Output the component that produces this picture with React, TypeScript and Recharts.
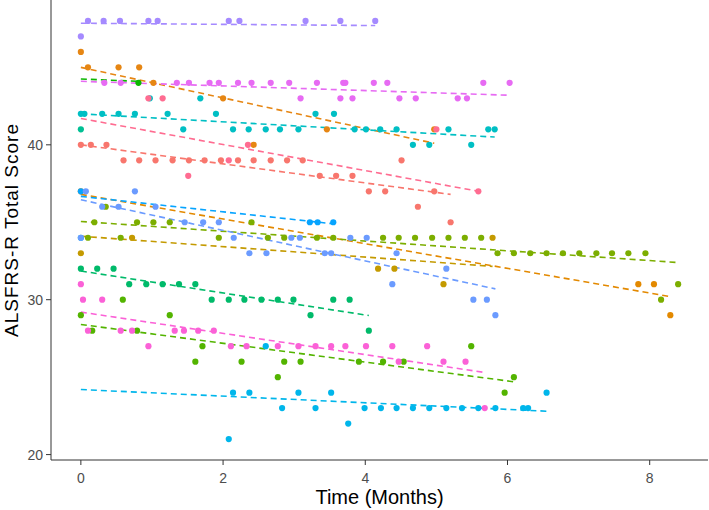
import { ComposedChart, Scatter, Line, XAxis, YAxis, Label } from 'recharts';

// patient visits: time in months, ALSFRS-R total score
// fitTime / fitScore = ends of the dashed linear trend per patient
const p01Time = [0, 0.1, 0.32, 0.55, 0.95, 1.08, 2.08, 2.23, 3.16, 3.65, 4.14];
const p01Score = [47, 48, 48, 48, 48, 48, 48, 48, 48, 48, 48];
const p01FitTime = [0, 4.14];
const p01FitScore = [47.85, 47.7];

const p02Time = [0, 0.1, 0.53, 0.82, 1.02, 2.0, 2.43, 3.46, 4.97];
const p02Score = [46, 45, 45, 45, 44, 43, 40, 41, 41];
const p02FitTime = [0, 4.97];
const p02FitScore = [45.0, 40.1];

const p03Time = [0.33, 0.56, 1.35, 1.52, 1.81, 1.94, 2.21, 2.4, 2.67, 2.93, 3.09, 3.32, 3.65, 3.69, 3.72, 3.82, 4.12, 4.31, 4.48, 4.71, 5.3, 5.43, 5.66, 6.03];
const p03Score = [44, 44, 44, 44, 44, 44, 44, 44, 44, 44, 43, 44, 43, 44, 44, 43, 44, 44, 43, 43, 43, 43, 44, 44];
const p03FitTime = [0, 6.03];
const p03FitScore = [44.1, 43.2];

const p04Time = [0.81];
const p04Score = [44];
const p04FitTime = [0, 0.81];
const p04FitScore = [44.25, 44.1];

const p05Time = [0, 0.05, 0.3, 0.53, 0.76, 0.97, 1.22, 1.44, 1.68, 1.9, 2.14, 2.36, 2.6, 2.8, 3.06, 3.3, 3.56, 3.85, 4.01, 4.21, 4.44, 4.67, 4.9, 5.17, 5.49, 5.73, 5.82];
const p05Score = [42, 42, 42, 42, 42, 43, 42, 41, 43, 42, 41, 41, 41, 41, 41, 42, 42, 41, 41, 41, 41, 40, 40, 41, 40, 41, 41];
const p05FitTime = [0, 5.82];
const p05FitScore = [42.0, 40.5];

const p06Time = [0];
const p06Score = [41];

const p07Time = [0, 0.14, 0.36, 0.6, 0.82, 1.05, 1.29, 1.52, 1.74, 1.97, 2.21, 2.43, 2.67, 2.9, 3.12, 3.36, 3.59, 3.82, 4.05, 4.28, 4.51, 4.74, 4.97, 5.2];
const p07Score = [40, 40, 40, 39, 39, 39, 39, 39, 39, 39, 39, 39, 39, 39, 39, 38, 38, 38, 37, 37, 39, 36, 37, 35];
const p07FitTime = [0, 5.2];
const p07FitScore = [40.0, 36.8];

const p08Time = [0.95, 1.15, 1.51, 2.08, 2.35, 5.0, 5.59];
const p08Score = [43, 43, 38, 39, 40, 41, 37];
const p08FitTime = [0, 5.59];
const p08FitScore = [41.7, 37.0];

const p09Time = [0, 0.07, 0.3, 0.53, 0.76, 1.05, 1.46, 1.72, 1.94, 2.15, 2.37, 2.61, 2.96, 3.08, 3.43, 3.52, 3.79, 4.02, 4.38, 4.44, 5.14, 5.52, 5.71, 5.83];
const p09Score = [34, 37, 36, 36, 37, 36, 35, 35, 35, 34, 33, 33, 34, 34, 33, 33, 34, 34, 31, 33, 32, 30, 30, 29];
const p09FitTime = [0, 5.83];
const p09FitScore = [36.45, 30.7];

const p10Time = [0, 3.22, 3.33, 3.55];
const p10Score = [37, 35, 35, 35];
const p10FitTime = [0, 3.55];
const p10FitScore = [36.67, 34.9];

const p11Time = [0.1, 0.19, 0.35, 0.56, 0.79, 1.02, 1.25, 1.94, 2.4, 2.63, 2.86, 3.32, 3.55, 4.25, 4.47, 4.7, 4.94, 5.17, 5.4, 5.63, 5.86, 6.09, 6.32, 6.55, 6.78, 7.01, 7.25, 7.47, 7.7, 7.94, 8.16, 8.4];
const p11Score = [34, 35, 36, 34, 35, 35, 35, 34, 35, 34, 34, 34, 34, 34, 34, 34, 34, 34, 34, 34, 33, 33, 33, 33, 33, 33, 33, 33, 33, 33, 30, 31];
const p11FitTime = [0, 8.4];
const p11FitScore = [35.05, 32.4];

const p12Time = [0, 7.84, 8.06, 8.29];
const p12Score = [37, 31, 31, 29];
const p12FitTime = [0, 8.29];
const p12FitScore = [36.8, 30.2];

const p13Time = [0, 0.72, 4.18, 4.41, 5.1, 5.79];
const p13Score = [33, 34, 32, 32, 31, 34];
const p13FitTime = [0, 5.79];
const p13FitScore = [34.1, 32.15];

const p14Time = [0, 0.23, 0.46, 0.68, 0.92, 1.15, 1.38, 1.61, 1.84, 2.08, 2.3, 2.54, 2.77, 2.99, 3.23, 3.55, 3.78, 4.05];
const p14Score = [32, 32, 32, 31, 31, 31, 31, 31, 30, 30, 30, 30, 30, 30, 29, 30, 30, 28];
const p14FitTime = [0, 4.05];
const p14FitScore = [31.85, 28.98];

const p15Time = [0, 0.16, 0.59, 0.79, 1.25, 1.61, 1.71, 2.26, 2.77, 2.86, 3.09, 3.91, 4.25, 4.54, 5.49, 5.96, 6.09];
const p15Score = [29, 28, 30, 28, 29, 26, 27, 26, 25, 26, 26, 26, 26, 26, 27, 24, 25];
const p15FitTime = [0, 6.09];
const p15FitScore = [28.4, 24.7];

const p16Time = [0, 0.03, 0.1, 0.3, 0.56, 0.72, 0.95, 1.32, 1.45, 1.65, 1.87, 2.11, 2.33, 2.77, 3.06, 3.3, 3.52, 3.72, 4.01, 4.38, 4.47, 4.87, 5.1, 5.41, 5.68];
const p16Score = [31, 30, 28, 30, 28, 28, 27, 28, 28, 28, 28, 27, 27, 27, 27, 27, 27, 27, 27, 27, 26, 27, 26, 26, 23];
const p16FitTime = [0, 5.68];
const p16FitScore = [29.2, 25.3];

const p17Time = [0, 2.08, 2.14, 2.37, 2.6, 2.83, 3.06, 3.3, 3.52, 3.76, 3.99, 4.22, 4.44, 4.67, 4.9, 5.14, 5.36, 5.59, 5.83, 6.22, 6.29, 6.55];
const p17Score = [34, 21, 24, 24, 27, 23, 24, 23, 24, 22, 23, 23, 23, 23, 23, 23, 23, 23, 23, 23, 23, 24];
const p17FitTime = [0, 6.55];
const p17FitScore = [24.2, 22.8];

const xTicks = [0, 2, 4, 6, 8];
const yTicks = [20, 30, 40];

const patients = [
    { id: 'p07', color: '#F8766D', time: p07Time, score: p07Score, fitTime: p07FitTime, fitScore: p07FitScore },
    { id: 'p02', color: '#E68613', time: p02Time, score: p02Score, fitTime: p02FitTime, fitScore: p02FitScore },
    { id: 'p12', color: '#E38900', time: p12Time, score: p12Score, fitTime: p12FitTime, fitScore: p12FitScore },
    { id: 'p13', color: '#C49A00', time: p13Time, score: p13Score, fitTime: p13FitTime, fitScore: p13FitScore },
    { id: 'p11', color: '#7CAE00', time: p11Time, score: p11Score, fitTime: p11FitTime, fitScore: p11FitScore },
    { id: 'p15', color: '#53B400', time: p15Time, score: p15Score, fitTime: p15FitTime, fitScore: p15FitScore },
    { id: 'p04', color: '#0CB702', time: p04Time, score: p04Score, fitTime: p04FitTime, fitScore: p04FitScore },
    { id: 'p14', color: '#00BA6A', time: p14Time, score: p14Score, fitTime: p14FitTime, fitScore: p14FitScore },
    { id: 'p06', color: '#00C094', time: p06Time, score: p06Score, fitTime: null, fitScore: null },
    { id: 'p05', color: '#00BFC4', time: p05Time, score: p05Score, fitTime: p05FitTime, fitScore: p05FitScore },
    { id: 'p17', color: '#00B6EB', time: p17Time, score: p17Score, fitTime: p17FitTime, fitScore: p17FitScore },
    { id: 'p10', color: '#06A4FF', time: p10Time, score: p10Score, fitTime: p10FitTime, fitScore: p10FitScore },
    { id: 'p09', color: '#6B9BFF', time: p09Time, score: p09Score, fitTime: p09FitTime, fitScore: p09FitScore },
    { id: 'p01', color: '#A58AFF', time: p01Time, score: p01Score, fitTime: p01FitTime, fitScore: p01FitScore },
    { id: 'p03', color: '#E76BF3', time: p03Time, score: p03Score, fitTime: p03FitTime, fitScore: p03FitScore },
    { id: 'p16', color: '#FB61D7', time: p16Time, score: p16Score, fitTime: p16FitTime, fitScore: p16FitScore },
    { id: 'p08', color: '#FF6C91', time: p08Time, score: p08Score, fitTime: p08FitTime, fitScore: p08FitScore },
];

const axisColor = '#333333';
const tickColor = '#4D4D4D';

const YTitle = () => (
    <text
        x={18}
        y={230}
        transform="rotate(-90 18 230)"
        textAnchor="middle"
        fill="#000"
        fontSize={19}
        letterSpacing={1}
    >
        ALSFRS-R Total Score
    </text>
);

export default function App() {
    const series = patients.map(p => ({
        ...p,
        points: p.time.map((t, i) => ({ t, v: p.score[i] })),
        trend: p.fitTime ? p.fitTime.map((t, i) => ({ t, v: p.fitScore![i] })) : null,
    }));

    return (
        <div style={{ width: 709, height: 510, fontFamily: '"Liberation Sans", Arial, sans-serif' }}>
            <style>{'body { margin: 0; }'}</style>
            <ComposedChart width={709} height={510} margin={{ top: 0, right: 1, bottom: 0, left: 0 }}>
                <XAxis
                    type="number"
                    dataKey="t"
                    domain={[-0.42, 8.82]}
                    ticks={xTicks}
                    allowDataOverflow
                    height={50}
                    stroke={axisColor}
                    tickSize={5}
                    tickMargin={8}
                    tick={{ fill: tickColor, fontSize: 14 }}
                >
                    <Label value="Time (Months)" position="insideBottom" offset={6} fill="#000" fontSize={20} />
                </XAxis>
                <YAxis
                    type="number"
                    dataKey="v"
                    domain={[19.65, 49.35]}
                    ticks={yTicks}
                    allowDataOverflow
                    width={51}
                    stroke={axisColor}
                    tickSize={5}
                    tickMargin={3}
                    tick={{ fill: tickColor, fontSize: 14 }}
                >
                    <Label content={() => <YTitle />} />
                </YAxis>
                {series.map(s => (
                    <Scatter
                        key={s.id + '-pts'}
                        data={s.points}
                        fill={s.color}
                        isAnimationActive={false}
                        shape={(props: any) => <circle cx={props.cx} cy={props.cy} r={3.1} fill={s.color} />}
                    />
                ))}
                {series
                    .filter(s => s.trend)
                    .map(s => (
                        <Line
                            key={s.id + '-fit'}
                            data={s.trend!}
                            dataKey="v"
                            stroke={s.color}
                            strokeWidth={1.6}
                            strokeDasharray="6 4"
                            dot={false}
                            activeDot={false}
                            isAnimationActive={false}
                        />
                    ))}
            </ComposedChart>
        </div>
    );
}
